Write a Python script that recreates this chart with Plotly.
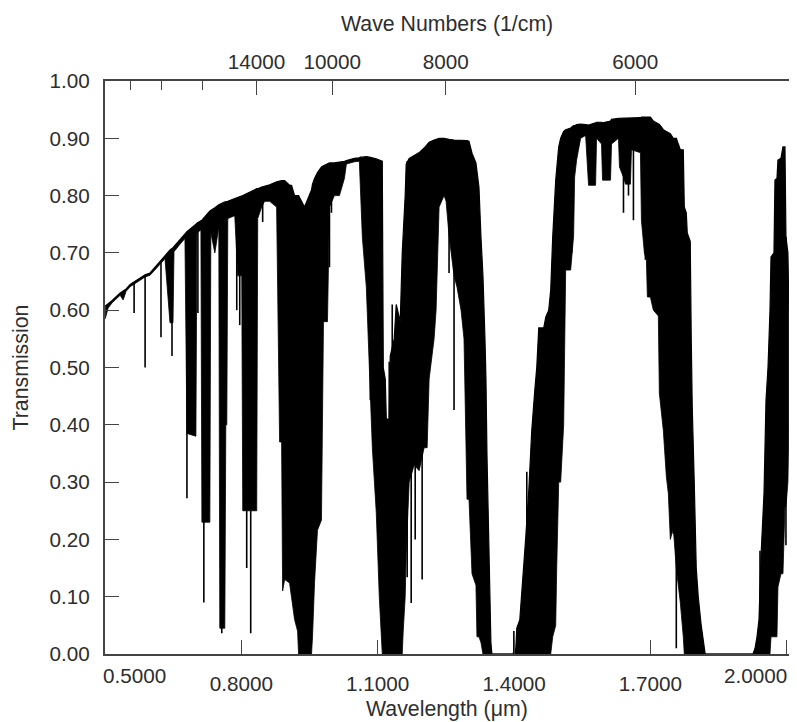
import plotly.graph_objects as go

# ---------------- data ----------------
# wavelength nodes (micrometres) of the dense spectrum envelope
wavelength = [
    0.5004, 0.5070, 0.5158, 0.5333, 0.5399, 0.5465, 0.5553, 0.5662, 0.5772, 0.5882,
    0.5991, 0.6101, 0.6210, 0.6320, 0.6430, 0.6496, 0.6518, 0.6649, 0.6759, 0.6803,
    0.7000, 0.7022, 0.7110, 0.7132, 0.7307, 0.7329, 0.7417, 0.7504, 0.7526, 0.7636,
    0.7658, 0.7680, 0.7702, 0.7855, 0.7921, 0.8009, 0.8031, 0.8338, 0.8360, 0.8447,
    0.8513, 0.8623, 0.8776, 0.8842, 0.8886, 0.8908, 0.8952, 0.9061, 0.9105, 0.9171,
    0.9237, 0.9259, 0.9390, 0.9500, 0.9544, 0.9566, 0.9610, 0.9675, 0.9763, 0.9807,
    0.9895, 0.9939, 1.0048, 1.0158, 1.0268, 1.0311, 1.0487, 1.0596, 1.0618, 1.0662,
    1.0750, 1.0816, 1.0882, 1.0969, 1.1035, 1.1101, 1.1123, 1.1167, 1.1189, 1.1254,
    1.1276, 1.1364, 1.1408, 1.1496, 1.1540, 1.1562, 1.1605, 1.1627, 1.1693, 1.1803,
    1.1912, 1.2022, 1.2088, 1.2132, 1.2241, 1.2285, 1.2351, 1.2461, 1.2505, 1.2570,
    1.2680, 1.2746, 1.2834, 1.2899, 1.2965, 1.3009, 1.3075, 1.3162, 1.3184, 1.3228,
    1.3272, 1.3316, 1.3360, 1.3382, 1.3404, 1.3447, 1.3491, 1.3513, 1.3974, 1.4039,
    1.4061, 1.4127, 1.4171, 1.4259, 1.4325, 1.4390, 1.4456, 1.4500, 1.4544, 1.4654,
    1.4698, 1.4763, 1.4807, 1.4851, 1.4917, 1.4939, 1.4983, 1.5026, 1.5092, 1.5136,
    1.5246, 1.5311, 1.5333, 1.5377, 1.5465, 1.5575, 1.5640, 1.5794, 1.5816, 1.5925,
    1.5947, 1.6123, 1.6145, 1.6298, 1.6320, 1.6408, 1.6452, 1.6561, 1.6583, 1.6781,
    1.6803, 1.6868, 1.6912, 1.6934, 1.7000, 1.7066, 1.7175, 1.7197, 1.7241, 1.7285,
    1.7351, 1.7395, 1.7439, 1.7504, 1.7570, 1.7658, 1.7724, 1.7746, 1.7790, 1.7811,
    1.7877, 1.7899, 1.7921, 1.7965, 1.8009, 1.8053, 1.8118, 1.8206, 1.9259, 1.9303,
    1.9346, 1.9390, 1.9434, 1.9500, 1.9544, 1.9588, 1.9632, 1.9654, 1.9719, 1.9741,
    1.9785, 1.9807, 1.9873, 1.9917, 1.9961, 1.9983, 2.0026, 2.0048,
]
# upper edge of the drawn transmission trace
trans_upper = [
    0.607, 0.612, 0.617, 0.630, 0.634, 0.637, 0.645, 0.651, 0.657, 0.662,
    0.665, 0.675, 0.685, 0.696, 0.705, 0.709, 0.711, 0.723, 0.733, 0.737,
    0.750, 0.752, 0.756, 0.757, 0.773, 0.774, 0.779, 0.784, 0.785, 0.789,
    0.789, 0.790, 0.790, 0.795, 0.797, 0.799, 0.800, 0.812, 0.812, 0.815,
    0.816, 0.819, 0.824, 0.826, 0.826, 0.826, 0.826, 0.818, 0.818, 0.800,
    0.800, 0.800, 0.780, 0.800, 0.810, 0.820, 0.830, 0.840, 0.850, 0.852,
    0.855, 0.857, 0.857, 0.858, 0.860, 0.861, 0.865, 0.866, 0.867, 0.867,
    0.868, 0.867, 0.866, 0.864, 0.862, 0.860, 0.500, 0.480, 0.410, 0.410,
    0.520, 0.550, 0.610, 0.580, 0.700, 0.730, 0.800, 0.855, 0.865, 0.870,
    0.875, 0.883, 0.890, 0.893, 0.897, 0.898, 0.900, 0.900, 0.899, 0.898,
    0.897, 0.897, 0.897, 0.896, 0.896, 0.895, 0.874, 0.857, 0.840, 0.815,
    0.728, 0.660, 0.550, 0.480, 0.350, 0.150, 0.020, 0.000, 0.000, 0.010,
    0.045, 0.060, 0.106, 0.205, 0.286, 0.390, 0.460, 0.500, 0.569, 0.569,
    0.588, 0.600, 0.635, 0.728, 0.827, 0.850, 0.885, 0.900, 0.912, 0.915,
    0.918, 0.922, 0.922, 0.924, 0.925, 0.924, 0.923, 0.927, 0.928, 0.928,
    0.927, 0.930, 0.933, 0.935, 0.935, 0.935, 0.935, 0.935, 0.936, 0.936,
    0.937, 0.937, 0.937, 0.937, 0.937, 0.930, 0.925, 0.924, 0.920, 0.915,
    0.912, 0.910, 0.908, 0.900, 0.900, 0.880, 0.880, 0.780, 0.770, 0.735,
    0.720, 0.550, 0.430, 0.300, 0.150, 0.100, 0.050, 0.000, 0.000, 0.010,
    0.030, 0.060, 0.170, 0.280, 0.443, 0.500, 0.600, 0.693, 0.700, 0.827,
    0.830, 0.862, 0.865, 0.885, 0.885, 0.728, 0.700, 0.600,
]
# lower edge of the dense (filled-looking) part of the trace
trans_lower = [
    0.585, 0.604, 0.613, 0.626, 0.618, 0.633, 0.641, 0.647, 0.653, 0.658,
    0.661, 0.670, 0.680, 0.690, 0.578, 0.578, 0.702, 0.715, 0.725, 0.385,
    0.380, 0.735, 0.740, 0.230, 0.230, 0.735, 0.700, 0.745, 0.045, 0.045,
    0.400, 0.400, 0.760, 0.765, 0.660, 0.660, 0.250, 0.250, 0.760, 0.780,
    0.790, 0.790, 0.780, 0.370, 0.370, 0.110, 0.130, 0.124, 0.100, 0.060,
    0.040, 0.000, 0.000, 0.000, 0.000, 0.030, 0.124, 0.216, 0.234, 0.580,
    0.580, 0.780, 0.800, 0.800, 0.830, 0.855, 0.859, 0.860, 0.815, 0.728,
    0.640, 0.500, 0.360, 0.246, 0.100, 0.000, 0.000, 0.000, 0.000, 0.000,
    0.000, 0.000, 0.000, 0.000, 0.000, 0.040, 0.100, 0.176, 0.300, 0.330,
    0.320, 0.360, 0.360, 0.480, 0.550, 0.600, 0.780, 0.800, 0.790, 0.730,
    0.660, 0.640, 0.600, 0.550, 0.270, 0.270, 0.140, 0.120, 0.030, 0.030,
    0.020, 0.000, 0.000, 0.000, 0.000, 0.000, 0.000, 0.000, 0.000, 0.000,
    0.000, 0.000, 0.000, 0.000, 0.000, 0.000, 0.000, 0.000, 0.000, 0.000,
    0.000, 0.000, 0.000, 0.030, 0.050, 0.150, 0.300, 0.300, 0.400, 0.670,
    0.670, 0.730, 0.832, 0.862, 0.900, 0.905, 0.818, 0.818, 0.900, 0.890,
    0.827, 0.827, 0.890, 0.900, 0.850, 0.832, 0.820, 0.820, 0.880, 0.875,
    0.757, 0.700, 0.688, 0.623, 0.623, 0.600, 0.590, 0.455, 0.420, 0.390,
    0.310, 0.280, 0.200, 0.220, 0.150, 0.090, 0.030, 0.000, 0.000, 0.000,
    0.000, 0.000, 0.000, 0.000, 0.000, 0.000, 0.000, 0.000, 0.000, 0.000,
    0.000, 0.000, 0.000, 0.000, 0.000, 0.000, 0.000, 0.030, 0.030, 0.030,
    0.030, 0.117, 0.140, 0.140, 0.257, 0.257, 0.300, 0.400,
]
# isolated absorption lines: wavelength, top and bottom of the line
line_wavelength = [
    0.5640, 0.5882, 0.6232, 0.6474, 0.6803, 0.7044, 0.7175, 0.7570, 0.7899, 0.7965,
    0.8118, 0.8206, 0.8469, 0.9939, 0.9983, 1.0838, 1.1254, 1.1320, 1.1649, 1.1737,
    1.1825, 1.1978, 1.2570, 1.2680, 1.3996, 1.4281, 1.5268, 1.6408, 1.6518, 1.6627,
    1.6890, 1.7504, 1.7570, 1.7614, 1.9412, 1.9983,
]
line_top = [
    0.648, 0.660, 0.686, 0.706, 0.737, 0.753, 0.760, 0.786, 0.795, 0.797,
    0.803, 0.806, 0.815, 0.857, 0.857, 0.867, 0.510, 0.610, 0.860, 0.866,
    0.870, 0.880, 0.898, 0.897, 0.040, 0.318, 0.920, 0.935, 0.935, 0.935,
    0.937, 0.900, 0.900, 0.890, 0.180, 0.728,
]
line_bottom = [
    0.595, 0.500, 0.553, 0.520, 0.272, 0.595, 0.090, 0.036, 0.600, 0.574,
    0.150, 0.036, 0.754, 0.675, 0.770, 0.443, 0.000, 0.000, 0.134, 0.089,
    0.200, 0.130, 0.665, 0.426, 0.000, 0.000, 0.700, 0.770, 0.800, 0.757,
    0.688, 0.210, 0.010, 0.147, 0.000, 0.190,
]

# axis ticks
wl_ticks = [0.5, 0.8, 1.1, 1.4, 1.7, 2.0]
wl_ticktext = ["", "0.8000", "1.1000", "1.4000", "1.7000", ""]
wl_end_labels = ["0.5000", "2.0000"]
wn_major = [12000, 10000, 8000, 6000]
wn_major_text = ["14000", "10000", "8000", "6000"]
wn_minor = [18000, 16000, 14000]
y_ticks = [0.0, 0.1, 0.2, 0.3, 0.4, 0.5, 0.6, 0.7, 0.8, 0.9, 1.0]

# ---------------- figure ----------------
FONT = "Arial, 'Liberation Sans', Helvetica, sans-serif"
TXT = "#2e2e2e"
AX = "#444444"
XR = [0.5, 2.005]
TICK_SIZE = 20.7
TITLE_SIZE = 21.3

fig = go.Figure()
fig.add_trace(go.Scatter(x=wavelength, y=trans_lower, mode="lines",
                         line=dict(color="black", width=0.8), hoverinfo="skip",
                         showlegend=False))
fig.add_trace(go.Scatter(x=wavelength, y=trans_upper, mode="lines",
                         line=dict(color="black", width=1.2), fill="tonexty",
                         fillcolor="black", hoverinfo="skip", showlegend=False))

lx, ly = [], []
for w, t, b in zip(line_wavelength, line_top, line_bottom):
    lx += [w, w, None]
    ly += [t, b, None]
fig.add_trace(go.Scatter(x=lx, y=ly, mode="lines", xaxis="x2",
                         line=dict(color="black", width=1.6), hoverinfo="skip",
                         showlegend=False))

# the page body has an 8 px margin, so the figure is sized to sit at (8, 8)
fig.update_layout(
    width=789, height=714, autosize=False,
    margin=dict(l=97, r=6, t=73, b=68),
    paper_bgcolor="white", plot_bgcolor="white",
    font=dict(family=FONT, size=TICK_SIZE, color=TXT),
    xaxis=dict(range=XR, tickvals=wl_ticks, ticktext=wl_ticktext,
               ticks="inside", ticklen=14, tickwidth=1.2, tickcolor=AX,
               showline=True, linewidth=2, linecolor=AX, mirror=True,
               showgrid=False, zeroline=False, ticklabelstandoff=10,
               tickfont=dict(size=TICK_SIZE, color=TXT)),
    xaxis2=dict(range=XR, overlaying="x", side="top",
                tickvals=[1e4 / v for v in wn_major], ticktext=wn_major_text,
                ticks="inside", ticklen=14, tickwidth=1.2, tickcolor=AX,
                minor=dict(tickvals=[1e4 / v for v in wn_minor], ticks="inside",
                           ticklen=9, tickwidth=1.2, tickcolor=AX),
                showline=False, showgrid=False, zeroline=False,
                ticklabelstandoff=7, tickfont=dict(size=TICK_SIZE, color=TXT)),
    yaxis=dict(range=[0, 1], tickvals=y_ticks, tickformat=".2f",
               ticks="inside", ticklen=14, tickwidth=1.2, tickcolor=AX,
               showline=True, linewidth=2, linecolor=AX, mirror=True,
               showgrid=False, zeroline=False, ticklabelstandoff=9,
               tickfont=dict(size=TICK_SIZE, color=TXT)),
    annotations=[
        dict(text=wl_end_labels[0], x=wl_ticks[0], xref="x", xanchor="left",
             xshift=-4, y=0, yref="paper", yanchor="middle", yshift=-21,
             showarrow=False, font=dict(size=TICK_SIZE, color=TXT)),
        dict(text=wl_end_labels[1], x=1, xref="paper", xanchor="right",
             xshift=0, y=0, yref="paper", yanchor="middle", yshift=-21,
             showarrow=False, font=dict(size=TICK_SIZE, color=TXT)),
        dict(text="Wavelength (μm)", x=0.5, xref="paper", y=0, yref="paper",
             yanchor="middle", yshift=-55, showarrow=False,
             font=dict(size=TITLE_SIZE, color=TXT)),
        dict(text="Wave Numbers (1/cm)", x=0.5, xref="paper", y=1, yref="paper",
             yanchor="middle", yshift=57, showarrow=False,
             font=dict(size=TITLE_SIZE, color=TXT)),
        dict(text="Transmission", x=0, xref="paper", xanchor="center", xshift=-85,
             y=0.5, yref="paper", yanchor="middle", textangle=-90,
             showarrow=False, font=dict(size=TITLE_SIZE, color=TXT)),
    ],
)

fig.write_html("out.html")
